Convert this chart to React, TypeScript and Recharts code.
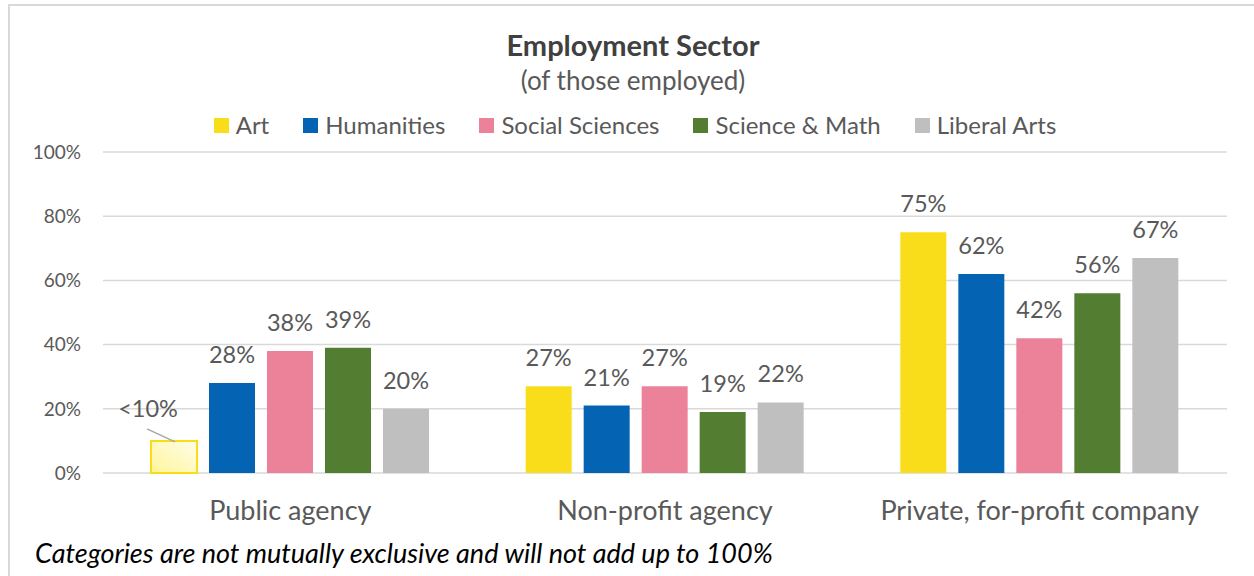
import React from 'react';
import { BarChart, Bar, XAxis, YAxis, CartesianGrid, Cell, LabelList } from 'recharts';

const categories = ['Public agency', 'Non-profit agency', 'Private, for-profit company'];
const art = [10, 27, 75];
const humanities = [28, 21, 62];
const socialSciences = [38, 27, 42];
const scienceMath = [39, 19, 56];
const liberalArts = [20, 22, 67];
const artLabels = ['<10%', '27%', '75%'];
const yTicks = [0, 20, 40, 60, 80, 100];

const series = [
  { key: 'art', name: 'Art', color: '#f9dd1a' },
  { key: 'humanities', name: 'Humanities', color: '#0563b4' },
  { key: 'social', name: 'Social Sciences', color: '#ec8299' },
  { key: 'science', name: 'Science & Math', color: '#537d30' },
  { key: 'liberal', name: 'Liberal Arts', color: '#bfbfbf' },
];

const data = categories.map((name, i) => ({
  name,
  art: art[i],
  humanities: humanities[i],
  social: socialSciences[i],
  science: scienceMath[i],
  liberal: liberalArts[i],
  artLabel: artLabels[i],
}));

const FONT = 'Lato, "Open Sans", sans-serif';
const TEXT = '#595959';
const LABEL_SIZE = 23.5;

const pctLabel = (props: any) => {
  const { x, y, width, value } = props;
  return (
    <text x={x + width / 2} y={y - 20} textAnchor="middle" fontSize={LABEL_SIZE} fill={TEXT} fontFamily={FONT}>
      {value}%
    </text>
  );
};

const artLabel = (props: any) => {
  const { x, y, width, value, index } = props;
  if (index === 0) {
    // callout label moved up-left with a leader line
    return (
      <g>
        <line x1={x - 4} y1={y - 12} x2={x + 24} y2={y + 1} stroke="#a6a6a6" strokeWidth={1.5} />
        <text x={x - 3} y={y - 24} textAnchor="middle" fontSize={LABEL_SIZE} fill={TEXT} fontFamily={FONT}>
          {value}
        </text>
      </g>
    );
  }
  return (
    <text x={x + width / 2} y={y - 20} textAnchor="middle" fontSize={LABEL_SIZE} fill={TEXT} fontFamily={FONT}>
      {value}
    </text>
  );
};

export default function App() {
  return (
    <div style={{ position: 'absolute', left: 0, top: 0, width: 1254, height: 576, overflow: 'hidden', background: '#fff', fontFamily: FONT }}>
      <div style={{ position: 'absolute', left: 8, top: 4, width: 1300, height: 600, borderLeft: '2px solid #d9d9d9', borderTop: '2px solid #d9d9d9' }} />
      <div style={{ position: 'absolute', left: 0, width: 1266, top: 27, textAlign: 'center', fontSize: 29, fontWeight: 700, color: '#404040', lineHeight: '36px' }}>
        Employment Sector
      </div>
      <div style={{ position: 'absolute', left: 0, width: 1266, top: 64, textAlign: 'center', fontSize: 26, color: TEXT, lineHeight: '32px' }}>
        (of those employed)
      </div>
      <div style={{ position: 'absolute', left: 0, width: 1270, top: 111, display: 'flex', justifyContent: 'center', gap: 34, fontSize: 24, color: TEXT, lineHeight: '28px' }}>
        {series.map((s) => (
          <div key={s.key} style={{ display: 'flex', alignItems: 'center' }}>
            <span style={{ width: 15, height: 15, background: s.color, marginRight: 7, display: 'inline-block' }} />
            <span>{s.name}</span>
          </div>
        ))}
      </div>
      <div style={{ position: 'absolute', left: 0, top: 0 }}>
        <BarChart
          width={1254}
          height={576}
          data={data}
          margin={{ top: 152, right: 27, bottom: 73, left: 23 }}
          barSize={46}
          barGap={12}
        >
          <defs>
            <linearGradient id="artPale" x1="1" y1="0" x2="0" y2="1">
              <stop offset="0%" stopColor="#fffde8" />
              <stop offset="100%" stopColor="#fff59a" />
            </linearGradient>
          </defs>
          <CartesianGrid vertical={false} stroke="#d9d9d9" strokeWidth={1.5} />
          <XAxis
            dataKey="name"
            axisLine={false}
            tickLine={false}
            tickMargin={22}
            tick={{ fontSize: 27, fill: TEXT, fontFamily: FONT }}
            interval={0}
          />
          <YAxis
            domain={[0, 100]}
            ticks={yTicks}
            width={80}
            axisLine={false}
            tickLine={false}
            tickMargin={16}
            tickFormatter={(v: number) => `${v}%`}
            tick={{ fontSize: 19, fill: TEXT, fontFamily: FONT }}
          />
          <Bar dataKey="art" name="Art" fill={series[0].color} isAnimationActive={false}>
            {data.map((d, i) => (
              <Cell
                key={d.name}
                fill={i === 0 ? 'url(#artPale)' : series[0].color}
                stroke={i === 0 ? '#f9dd1a' : 'none'}
                strokeWidth={i === 0 ? 2 : 0}
              />
            ))}
            <LabelList dataKey="artLabel" content={artLabel} />
          </Bar>
          {series.slice(1).map((s) => (
            <Bar key={s.key} dataKey={s.key} name={s.name} fill={s.color} isAnimationActive={false}>
              <LabelList dataKey={s.key} content={pctLabel} />
            </Bar>
          ))}
        </BarChart>
      </div>
      <div style={{ position: 'absolute', left: 35, top: 537, fontSize: 27, fontStyle: 'italic', color: '#000', lineHeight: '32px' }}>
        Categories are not mutually exclusive and will not add up to 100%
      </div>
    </div>
  );
}
